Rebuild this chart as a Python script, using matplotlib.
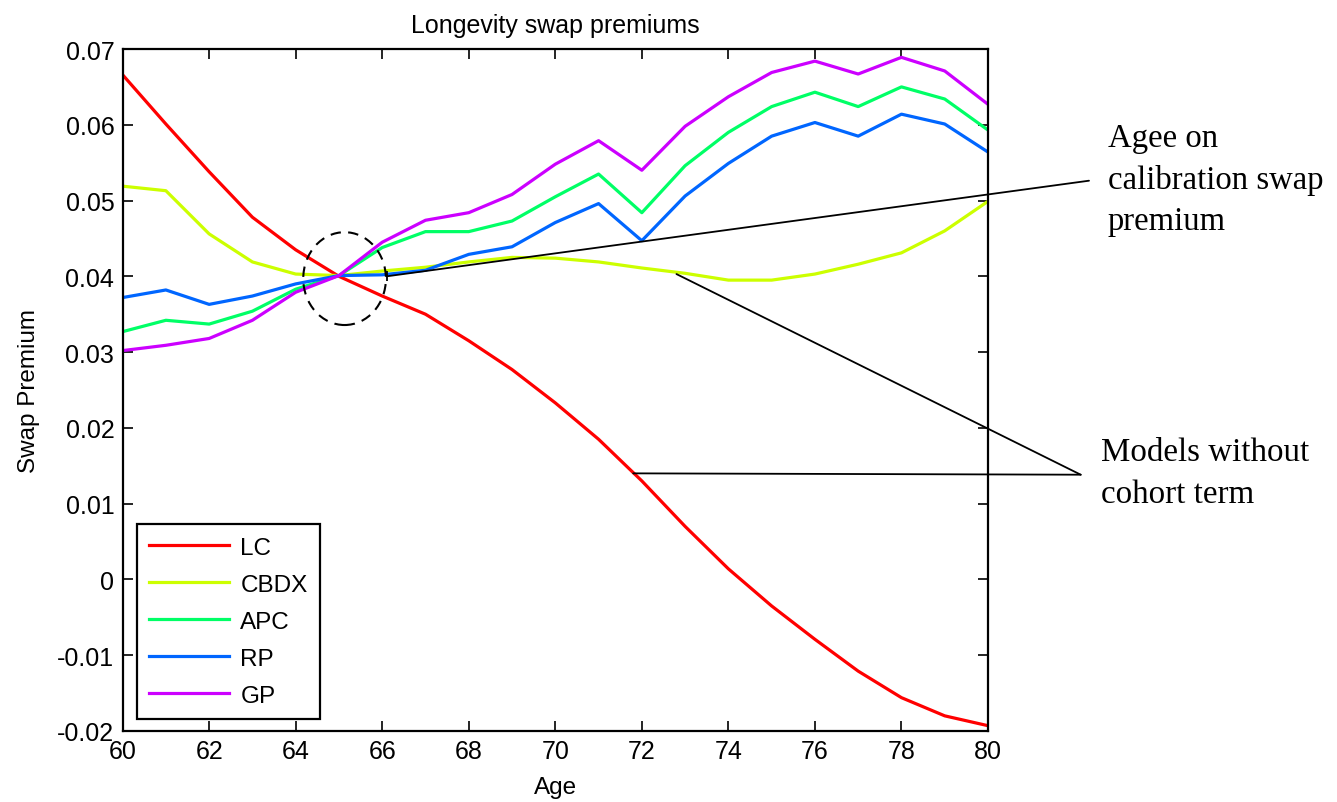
import numpy as np
import matplotlib

matplotlib.use("Agg")
import matplotlib.pyplot as plt  # noqa: E402
from matplotlib.patches import Ellipse, ConnectionPatch  # noqa: E402

plt.rcParams["font.family"] = ["Liberation Sans", "DejaVu Sans"]

ages = list(range(60, 81))
lc = [0.0666, 0.0601, 0.0538, 0.0478, 0.0435, 0.0400, 0.0374, 0.0350, 0.0315,
      0.0277, 0.0233, 0.0185, 0.0130, 0.0070, 0.0014, -0.0035, -0.0079,
      -0.0121, -0.0156, -0.0180, -0.0193]
cbdx = [0.0519, 0.0513, 0.0456, 0.0419, 0.0403, 0.0401, 0.0407, 0.0412, 0.0419,
        0.0425, 0.0424, 0.0419, 0.0411, 0.0404, 0.0395, 0.0395, 0.0403,
        0.0416, 0.0431, 0.0460, 0.0499]
apc = [0.0327, 0.0342, 0.0337, 0.0354, 0.0383, 0.0401, 0.0438, 0.0459, 0.0459,
       0.0473, 0.0505, 0.0535, 0.0484, 0.0546, 0.0590, 0.0624, 0.0643,
       0.0624, 0.0650, 0.0634, 0.0593]
rp = [0.0372, 0.0382, 0.0363, 0.0374, 0.0390, 0.0401, 0.0402, 0.0408, 0.0429,
      0.0439, 0.0471, 0.0496, 0.0447, 0.0506, 0.0549, 0.0585, 0.0603,
      0.0585, 0.0614, 0.0601, 0.0564]
gp = [0.0302, 0.0309, 0.0318, 0.0342, 0.0379, 0.0401, 0.0445, 0.0474, 0.0484,
      0.0508, 0.0548, 0.0579, 0.0540, 0.0598, 0.0637, 0.0669, 0.0684,
      0.0667, 0.0689, 0.0671, 0.0627]

series = [("LC", lc), ("CBDX", cbdx), ("APC", apc), ("RP", rp), ("GP", gp)]
# MATLAB hsv(5) line colours
colors = ["#ff0000", "#ccff00", "#00ff66", "#0066ff", "#cc00ff"]

xticks = list(range(60, 81, 2))
yticks = [-0.02, -0.01, 0, 0.01, 0.02, 0.03, 0.04, 0.05, 0.06, 0.07]
ytick_labels = ["-0.02", "-0.01", "0", "0.01", "0.02", "0.03", "0.04",
                "0.05", "0.06", "0.07"]

W, H = 1337, 803
fig = plt.figure(figsize=(W / 100, H / 100), dpi=100)
ax = fig.add_axes([122.6 / W, 1 - 732 / H, (988 - 122.6) / W, (732 - 50) / H])

for (name, vals), col in zip(series, colors):
    ax.plot(ages, vals, color=col, lw=2.3, label=name)

ax.set_xlim(60, 80)
ax.set_ylim(-0.02, 0.07)
ax.set_xticks(xticks)
ax.set_yticks(yticks)
ax.set_yticklabels(ytick_labels)
ax.tick_params(direction="in", length=7, width=1.2, labelsize=18,
               top=True, right=True, pad=6)
for s in ax.spines.values():
    s.set_linewidth(1.6)

ax.set_title("Longevity swap premiums", fontsize=18, pad=12)
ax.set_xlabel("Age", fontsize=17.5, labelpad=9)
ax.set_ylabel("Swap Premium", fontsize=17.5, labelpad=12)

leg = ax.legend(loc="lower left", bbox_to_anchor=(0.0166, 0.0176),
                borderaxespad=0, fancybox=False, edgecolor="black",
                fontsize=17.5, handlelength=3.3, handletextpad=0.45,
                labelspacing=0.62, borderpad=0.5, framealpha=1)
leg.get_frame().set_linewidth(1.6)

# dashed circle round the calibration point
ax.add_patch(Ellipse((65.13, 0.0397), 1.91, 0.01225, fill=False,
                     ls=(0, (5, 3.5)), lw=1.5, ec="black", zorder=5))

serif = ["Liberation Serif", "DejaVu Serif"]
fig.text(1108 / W, 1 - 124 / H, "Agee on\ncalibration swap\npremium",
         family=serif, fontsize=23.6, va="top", ha="left", linespacing=1.45)
fig.text(1101 / W, 1 - 438 / H, "Models without\ncohort term",
         family=serif, fontsize=23.8, va="top", ha="left", linespacing=1.45)

pointer_lines = [
    ((66.1, 0.0400), (1089, H - 181.7)),
    ((72.8, 0.0403), (1080.7, H - 475.7)),
    ((71.8, 0.0140), (1080.7, H - 475.7)),
]
for start, end in pointer_lines:
    fig.add_artist(ConnectionPatch(start, end, coordsA=ax.transData,
                                   coordsB="figure pixels", color="black",
                                   lw=1.3, zorder=6))
ax.plot(66.1, 0.0400, marker="|", ms=7, mew=1.3, color="black", zorder=6)

fig.savefig("out.png", dpi=100)
